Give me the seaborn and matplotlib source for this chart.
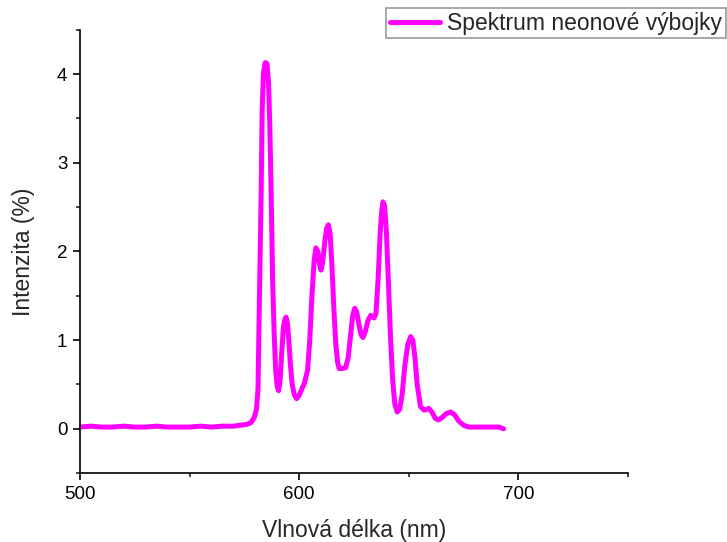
import numpy as np
import pandas as pd
import seaborn as sns
import matplotlib.pyplot as plt
from matplotlib.ticker import MultipleLocator

# values
wavelength = [500, 505, 510, 515, 520, 525, 530, 535, 540, 545, 550, 555, 560, 565, 570, 573, 576, 578,
              579.5, 580.5, 581.2, 581.8, 582.6, 583.1, 583.7, 584.5, 585.3, 586.0, 586.6, 587.1,
              587.9, 588.6, 589.3, 590.0, 590.6, 591.3, 592.0, 592.8, 593.5, 594.0, 594.6, 595.3,
              596.0, 596.8, 597.8, 598.8, 600.0, 601.2, 602.3, 603.8, 604.8, 605.8, 606.8, 607.6,
              608.5, 609.3, 609.9, 610.7, 611.6, 612.5, 613.3, 614.1, 614.9, 615.8, 616.7, 617.5,
              618.2, 619.5, 621.2, 622.3, 623.4, 624.4, 625.3, 626.2, 627.2, 628.2, 629.1, 630.2,
              631.3, 632.6, 634.1, 635.0, 636.0, 636.9, 637.6, 638.2, 638.9, 639.7, 640.6, 641.6,
              642.6, 643.6, 644.7, 645.8, 647.0, 648.2, 649.5, 650.8, 651.8, 652.8, 653.8, 655.3,
              657.0, 659.1, 660.5, 662.0, 663.6, 665.3, 667.0, 669.0, 670.8, 672.7, 675.0, 677.3,
              680, 684, 688, 691, 693.2]
intensity = [0.02, 0.03, 0.02, 0.02, 0.03, 0.02, 0.02, 0.03, 0.02, 0.02, 0.02, 0.03, 0.02, 0.03, 0.03, 0.04, 0.05, 0.07,
             0.13, 0.22, 0.45, 1.4, 2.6, 3.6, 4.02, 4.13, 4.12, 3.9, 3.4, 2.78,
             1.64, 1.05, 0.65, 0.47, 0.43, 0.55, 0.85, 1.15, 1.24, 1.26, 1.2, 0.98,
             0.72, 0.5, 0.38, 0.34, 0.38, 0.45, 0.51, 0.66, 1.0, 1.5, 1.9, 2.04,
             2.0, 1.85, 1.79, 1.88, 2.1, 2.26, 2.30, 2.2, 1.85, 1.35, 0.95, 0.75,
             0.68, 0.68, 0.69, 0.8, 1.05, 1.28, 1.36, 1.32, 1.18, 1.06, 1.03, 1.1,
             1.22, 1.28, 1.25, 1.3, 1.7, 2.2, 2.45, 2.56, 2.52, 2.25, 1.7, 1.05,
             0.55, 0.28, 0.19, 0.22, 0.4, 0.72, 0.95, 1.04, 1.0, 0.8, 0.5, 0.25,
             0.21, 0.23, 0.19, 0.12, 0.10, 0.13, 0.17, 0.19, 0.16, 0.09, 0.04, 0.02,
             0.02, 0.02, 0.02, 0.02, 0.0]

df = pd.DataFrame({"Vlnová délka (nm)": wavelength, "Intenzita (%)": intensity})

sns.set_style("ticks")
plt.rcParams['font.family'] = ['Liberation Sans', 'DejaVu Sans']

fig = plt.figure(figsize=(7.27, 5.42), dpi=100)
ax = fig.add_axes([0.110, 0.127, 0.754, 0.818])

sns.lineplot(data=df, x="Vlnová délka (nm)", y="Intenzita (%)", color="#FF00FF",
             linewidth=3.6, ax=ax, label="Spektrum neonové výbojky", sort=False)

ax.set_xlim(500, 750)
ax.set_ylim(-0.5, 4.5)
ax.xaxis.set_major_locator(MultipleLocator(100))
ax.xaxis.set_minor_locator(MultipleLocator(50))
ax.yaxis.set_major_locator(MultipleLocator(1))
ax.yaxis.set_minor_locator(MultipleLocator(0.5))
ax.tick_params(which="major", length=5, width=1.2, labelsize=13.5, colors="black", pad=4)
ax.tick_params(which="minor", length=3, width=1.2)
ax.set_xlabel("Vlnová délka (nm)", fontsize=16.5, labelpad=12)
ax.set_ylabel("Intenzita (%)", fontsize=16.5, labelpad=16)

for s in ["left", "bottom"]:
    ax.spines[s].set_linewidth(1.2)
    ax.spines[s].set_color("black")
sns.despine(ax=ax)

leg = ax.legend(loc="upper right", bbox_to_anchor=(0.998, 0.985), bbox_transform=fig.transFigure,
                fontsize=16.5, frameon=True, fancybox=False, handlelength=2.2,
                borderpad=0.15, handletextpad=0.3, borderaxespad=0)
leg.get_frame().set_edgecolor("#808080")
leg.get_frame().set_linewidth(1.2)

fig.savefig("out.png", dpi=100)
